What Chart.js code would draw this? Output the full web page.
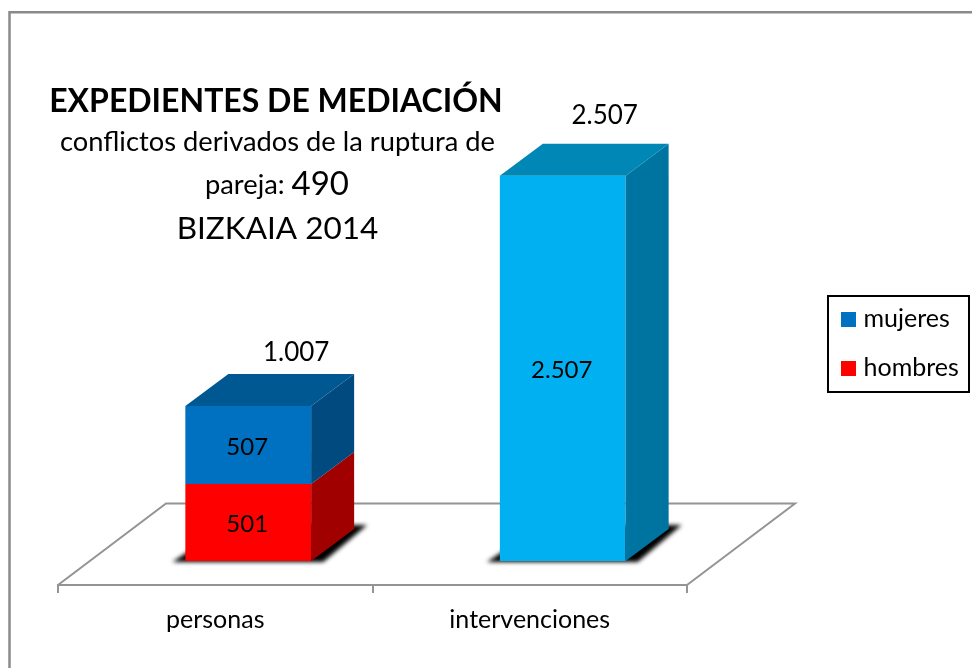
<!DOCTYPE html>
<html><head><meta charset="utf-8">
<style>html,body{margin:0;padding:0;background:#fff}#w{position:relative;width:972px;height:668px}canvas{display:block}</style>
<script src="https://cdn.jsdelivr.net/npm/chart.js@4"></script>
</head><body><div id="w"><canvas id="c" width="972" height="668"></canvas></div>
<script>
const categories = ['personas', 'intervenciones'];
const hombres = [501, null];
const mujeres = [507, 2507];
const totals = [1007, 2507];
const frontColorsHombres = ['#FF0000', '#FF0000'];
const frontColorsMujeres = ['#0070C0', '#00B0F0'];
const titleMain = 'EXPEDIENTES DE MEDIACIÓN';
const subtitle1 = 'conflictos derivados de la ruptura de';
const subtitle2a = 'pareja: ';
const subtitle2b = '490';
const subtitle3 = 'BIZKAIA 2014';

const FONT = 'Lato, Carlito, sans-serif';
const SHIFT = 33, DX = 43, DY = 32, FLOOR_DX = 108, FLOOR_DY = 81.5;
const sideShade = {'#FF0000':['#A00000','#A00000'], '#0070C0':['#004A7F','#005892'], '#00B0F0':['#0074A0','#0087B6']};
const fmt = v => String(v).replace(/\B(?=(\d{3})+$)/g, '.');

function poly(ctx, pts, fill) {
  ctx.beginPath();
  pts.forEach((p, i) => i ? ctx.lineTo(p[0], p[1]) : ctx.moveTo(p[0], p[1]));
  ctx.closePath();
  ctx.fillStyle = fill;
  ctx.fill();
}
function text(ctx, s, x, y, font, align) {
  ctx.font = font; ctx.fillStyle = '#000'; ctx.textAlign = align || 'center'; ctx.textBaseline = 'middle';
  ctx.fillText(s, x, y);
}
function swatch(color) {
  const c = document.createElement('canvas');
  c.width = 15; c.height = 15;
  const g = c.getContext('2d');
  g.fillStyle = color; g.fillRect(0, 0, 15, 15);
  return c;
}

const scene = {
  id: 'scene',
  afterLayout(chart) {
    const l = chart.legend;
    l.left = 822; l.right = 969; l.top = 282.5; l.bottom = 440; l.width = 147; l.height = 157.5;
  },
  beforeDatasetsDraw(chart) {
    const {ctx, scales: {x}} = chart;
    const b = chart.chartArea.bottom;
    ctx.save();
    // page frame (top and left only)
    ctx.strokeStyle = '#8a8a8a'; ctx.lineWidth = 2.5;
    ctx.beginPath(); ctx.moveTo(9.5, 668); ctx.lineTo(9.5, 12.2); ctx.lineTo(972, 12.2); ctx.stroke();
    // floor
    ctx.strokeStyle = '#949494'; ctx.lineWidth = 2;
    ctx.beginPath();
    ctx.moveTo(x.left, b); ctx.lineTo(x.left + FLOOR_DX, b - FLOOR_DY);
    ctx.lineTo(x.right + FLOOR_DX, b - FLOOR_DY); ctx.lineTo(x.right, b);
    ctx.stroke();
    // contact shadows
    const m = chart.getDatasetMeta(1);
    m.data.forEach((el, i) => {
      const top = chart.getDatasetMeta(0).data[i];
      const base = chart.data.datasets[0].data[i] == null ? el.base : top.base;
      const l = el.x - el.width / 2 + SHIFT, r = el.x + el.width / 2 + SHIFT;
      ctx.save();
      ctx.filter = 'blur(2.2px)';
      poly(ctx, [[l - 13, base + 1], [r + 12, base + 1], [r + DX + 13, base - DY - 4], [l + DX, base - DY - 4]], '#000');
      ctx.restore();
    });
    ctx.restore();
    ctx.save();
    ctx.translate(SHIFT, 0);
  },
  afterDatasetsDraw(chart) {
    const {ctx} = chart;
    ctx.restore();
    ctx.save();
    categories.forEach((_, i) => {
      let top = null, topColor = null, l, r;
      [0, 1].forEach(d => {
        if (chart.data.datasets[d].data[i] == null) return;
        const el = chart.getDatasetMeta(d).data[i];
        const c = chart.data.datasets[d].backgroundColor[i];
        l = el.x - el.width / 2 + SHIFT; r = el.x + el.width / 2 + SHIFT;
        poly(ctx, [[r, el.base], [r + DX, el.base - DY], [r + DX, el.y - DY], [r, el.y]], sideShade[c][0]);
        top = el.y; topColor = c;
        text(ctx, fmt(chart.data.datasets[d].data[i]), (l + r) / 2 - 1, (el.y + el.base) / 2 + 2, '24px ' + FONT);
      });
      poly(ctx, [[l, top], [r, top], [r + DX, top - DY], [l + DX, top - DY]], sideShade[topColor][1]);
      text(ctx, fmt(totals[i]), r + (i ? -21 : -15), top - DY - 21 + (i ? -7 : 0), '26px ' + FONT);
    });
    text(ctx, titleMain, 276, 101.5, 'bold 32px ' + FONT);
    text(ctx, subtitle1, 277.5, 142, '27.3px ' + FONT);
    ctx.font = '27.3px ' + FONT; const w1 = ctx.measureText(subtitle2a).width;
    ctx.font = '33px ' + FONT; const w2 = ctx.measureText(subtitle2b).width;
    const sx = 277 - (w1 + w2) / 2;
    text(ctx, subtitle2a, sx, 185, '27.3px ' + FONT, 'left');
    text(ctx, subtitle2b, sx + w1, 184, '33px ' + FONT, 'left');
    text(ctx, subtitle3, 277.5, 229, '31.5px ' + FONT);
    ctx.strokeStyle = '#000'; ctx.lineWidth = 2;
    ctx.strokeRect(828, 296, 141, 96);
    ctx.restore();
  }
};

new Chart(document.getElementById('c'), {
  type: 'bar',
  data: {
    labels: categories,
    datasets: [
      {label: 'hombres', data: hombres, backgroundColor: frontColorsHombres, stack: 's'},
      {label: 'mujeres', data: mujeres, backgroundColor: frontColorsMujeres, stack: 's'}
    ]
  },
  options: {
    responsive: false,
    animation: false,
    layout: {padding: {left: 58, right: 285, top: 100, bottom: 0}},
    datasets: {bar: {categoryPercentage: 1, barPercentage: 0.4}},
    scales: {
      x: {
        stacked: true,
        grid: {drawOnChartArea: false, drawTicks: true, tickLength: 8, color: '#949494', lineWidth: 2},
        border: {color: '#949494', width: 2},
        ticks: {color: '#000', font: {family: FONT, size: 25}, padding: 12, maxRotation: 0},
        afterFit(s) { s.height = 83; }
      },
      y: {stacked: true, display: false, min: -156.25, max: 3000}
    },
    plugins: {
      legend: {
        position: 'chartArea',
        align: 'start',
        reverse: true,
        labels: {
          usePointStyle: true, boxWidth: 5, boxHeight: 15, padding: 24, color: '#000',
          font: {family: FONT, size: 25},
          generateLabels(chart) {
            return chart.data.datasets.map((d, i) => ({text: d.label, fillStyle: d.backgroundColor[0], strokeStyle: d.backgroundColor[0], lineWidth: 0, pointStyle: swatch(d.backgroundColor[0]), datasetIndex: i, hidden: false}));
          }
        }
      },
      title: {display: false},
      tooltip: {enabled: false}
    }
  },
  plugins: [scene]
});
</script></body></html>
